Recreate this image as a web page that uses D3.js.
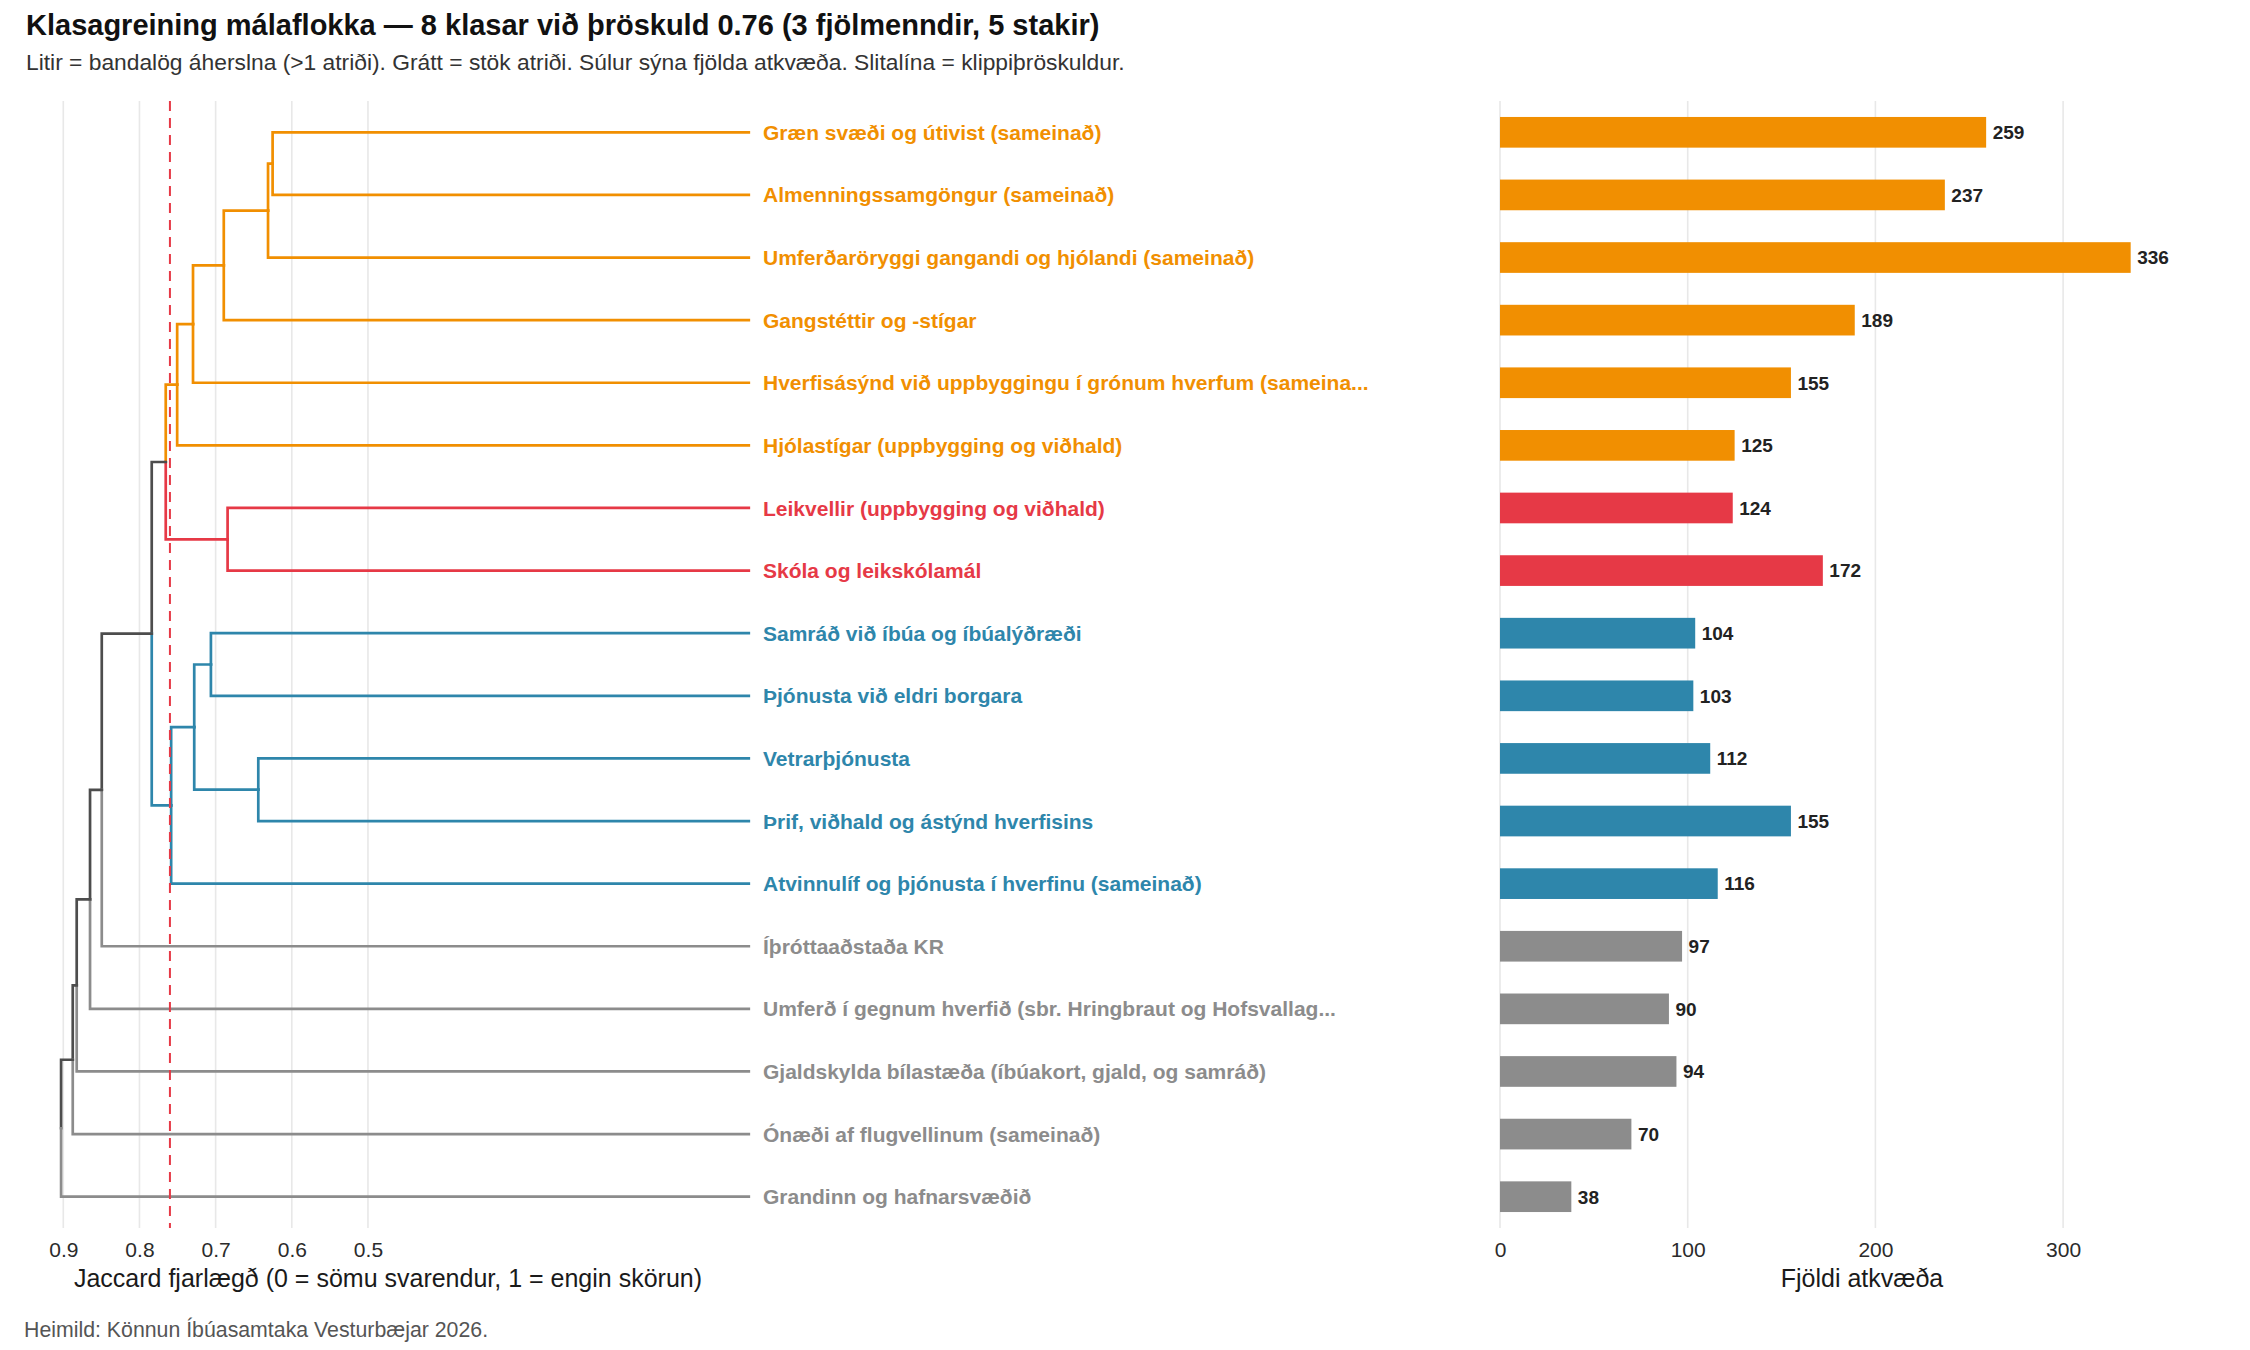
<!DOCTYPE html>
<html>
<head>
<meta charset="utf-8">
<script src="https://cdn.jsdelivr.net/npm/d3@7"></script>
<style>
  body { margin: 0; background: #fff; }
  text { font-family: "Liberation Sans", Arial, Helvetica, sans-serif; }
</style>
</head>
<body>
<svg id="chart" width="2250" height="1350"></svg>
<script>
// leaves, top to bottom (dendrogram order)
const leafLabels = [
  "Græn svæði og útivist (sameinað)",
  "Almenningssamgöngur (sameinað)",
  "Umferðaröryggi gangandi og hjólandi (sameinað)",
  "Gangstéttir og -stígar",
  "Hverfisásýnd við uppbyggingu í grónum hverfum (sameina...",
  "Hjólastígar (uppbygging og viðhald)",
  "Leikvellir (uppbygging og viðhald)",
  "Skóla og leikskólamál",
  "Samráð við íbúa og íbúalýðræði",
  "Þjónusta við eldri borgara",
  "Vetrarþjónusta",
  "Þrif, viðhald og ástýnd hverfisins",
  "Atvinnulíf og þjónusta í hverfinu (sameinað)",
  "Íþróttaaðstaða KR",
  "Umferð í gegnum hverfið (sbr. Hringbraut og Hofsvallag...",
  "Gjaldskylda bílastæða (íbúakort, gjald, og samráð)",
  "Ónæði af flugvellinum (sameinað)",
  "Grandinn og hafnarsvæðið"
];
const votes = [259, 237, 336, 189, 155, 125, 124, 172, 104, 103, 112, 155, 116, 97, 90, 94, 70, 38];
const leafCluster = ["o", "o", "o", "o", "o", "o", "r", "r", "b", "b", "b", "b", "b", "s1", "s2", "s3", "s4", "s5"];

// hclust-style merges: negative = leaf (1-based), positive = earlier merge
const mergePairs = [
  [-1, -2], [1, -3], [2, -4], [3, -5], [4, -6],
  [-7, -8], [5, 6],
  [-9, -10], [-11, -12], [8, 9], [10, -13],
  [7, 11], [12, -14], [13, -15], [14, -16], [15, -17], [16, -18]
];
const mergeHeights = [
  0.6252, 0.6312, 0.6893, 0.7297, 0.7505,
  0.6843, 0.7655,
  0.7062, 0.6440, 0.7281, 0.7584,
  0.7839, 0.8495, 0.8649, 0.8824, 0.8876, 0.9029
];
const cutHeight = 0.76;

const distTicks = [0.9, 0.8, 0.7, 0.6, 0.5];
const voteTicks = [0, 100, 200, 300];

const clusterColor = { o: "#F18F01", r: "#E63946", b: "#2E86AB" };
const singleColor = "#8C8C8C";
const mixedColor = "#4D4D4D";

const svg = d3.select("#chart");

const panelTop = 101, panelBottom = 1228;
const xDist = d3.scaleLinear().domain([0.9, 0]).range([63.3, 748.8]);
const yIdx = d3.scaleLinear().domain([-0.5, leafLabels.length - 0.5]).range([panelTop, panelBottom]);
const yBand = d3.scaleBand().domain(leafLabels).range([panelTop, panelBottom]);
const xVote = d3.scaleLinear().domain([0, 360]).range([1500, 1500 + 360 * 1.877]);

// build tree nodes
const nodes = leafLabels.map((d, i) => ({ y: i, h: 0, leaves: [i] }));
const merged = [];
mergePairs.forEach((p, k) => {
  const kids = p.map(c => (c < 0 ? nodes[-c - 1] : merged[c - 1]));
  merged.push({
    y: d3.mean(kids, c => c.y),
    h: mergeHeights[k],
    kids: kids,
    leaves: kids[0].leaves.concat(kids[1].leaves)
  });
});

function branchColor(n) {
  const cl = Array.from(new Set(n.leaves.map(i => leafCluster[i])));
  if (cl.length > 1) return mixedColor;
  return clusterColor[cl[0]] || singleColor;
}
function leafColor(i) {
  return clusterColor[leafCluster[i]] || singleColor;
}

// grid
const grid = svg.append("g");
grid.selectAll("line.dg").data(distTicks).join("line")
  .attr("x1", d => xDist(d)).attr("x2", d => xDist(d))
  .attr("y1", panelTop).attr("y2", panelBottom)
  .attr("stroke", "#E8E8E8").attr("stroke-width", 1.6);
grid.selectAll("line.vg").data(voteTicks).join("line")
  .attr("x1", d => xVote(d)).attr("x2", d => xVote(d))
  .attr("y1", panelTop).attr("y2", panelBottom)
  .attr("stroke", "#E8E8E8").attr("stroke-width", 1.6);

// dendrogram segments (elbow from node to each child)
const segs = [];
merged.forEach(n => {
  n.kids.forEach(c => segs.push({ n: n, c: c }));
});
svg.append("g").selectAll("path").data(segs).join("path")
  .attr("d", s => "M" + xDist(s.n.h) + "," + yIdx(s.n.y) +
    "V" + yIdx(s.c.y) + "H" + xDist(s.c.h))
  .attr("fill", "none")
  .attr("stroke", s => branchColor(s.c))
  .attr("stroke-width", 2.7)
  .attr("stroke-linecap", "square");

// cut line
svg.append("line")
  .attr("x1", xDist(cutHeight)).attr("x2", xDist(cutHeight))
  .attr("y1", panelTop).attr("y2", panelBottom)
  .attr("stroke", "#E63946").attr("stroke-width", 2)
  .attr("stroke-dasharray", "10,7");

// leaf labels
svg.append("g").selectAll("text").data(leafLabels).join("text")
  .attr("x", 763)
  .attr("y", (d, i) => yIdx(i))
  .attr("dy", "0.36em")
  .attr("font-size", "21px")
  .attr("font-weight", "bold")
  .attr("fill", (d, i) => leafColor(i))
  .text(d => d);

// bars
const bh = yBand.bandwidth() * 0.49;
svg.append("g").selectAll("rect").data(leafLabels).join("rect")
  .attr("x", xVote(0))
  .attr("y", d => yBand(d) + (yBand.bandwidth() - bh) / 2)
  .attr("width", (d, i) => xVote(votes[i]) - xVote(0))
  .attr("height", bh)
  .attr("fill", (d, i) => leafColor(i));

svg.append("g").selectAll("text").data(leafLabels).join("text")
  .attr("x", (d, i) => xVote(votes[i]) + 6.5)
  .attr("y", d => yBand(d) + yBand.bandwidth() / 2)
  .attr("dy", "0.36em")
  .attr("font-size", "19px")
  .attr("font-weight", "bold")
  .attr("fill", "#222")
  .text((d, i) => votes[i]);

// axes
const axDist = d3.axisBottom(xDist).tickValues(distTicks).tickFormat(d3.format(".1f")).tickSize(0).tickPadding(0);
const axVote = d3.axisBottom(xVote).tickValues(voteTicks).tickSize(0).tickPadding(0);
[axDist, axVote].forEach(ax => {
  const g = svg.append("g").attr("transform", "translate(0,1242)").call(ax);
  g.select(".domain").remove();
  g.selectAll("text")
    .attr("font-size", "21px")
    .attr("fill", "#2b2b2b")
    .attr("font-family", "Liberation Sans, Arial, sans-serif");
});

svg.append("text")
  .attr("x", 388).attr("y", 1287)
  .attr("text-anchor", "middle")
  .attr("font-size", "25px").attr("fill", "#1a1a1a")
  .text("Jaccard fjarlægð (0 = sömu svarendur, 1 = engin skörun)");
svg.append("text")
  .attr("x", 1862).attr("y", 1287)
  .attr("text-anchor", "middle")
  .attr("font-size", "25px").attr("fill", "#1a1a1a")
  .text("Fjöldi atkvæða");

// titles
svg.append("text")
  .attr("x", 26).attr("y", 35)
  .attr("font-size", "29px").attr("font-weight", "bold").attr("fill", "#111")
  .text("Klasagreining málaflokka — 8 klasar við þröskuld 0.76 (3 fjölmenndir, 5 stakir)");
svg.append("text")
  .attr("x", 26).attr("y", 70)
  .attr("font-size", "22.8px").attr("fill", "#333")
  .text("Litir = bandalög áherslna (>1 atriði). Grátt = stök atriði. Súlur sýna fjölda atkvæða. Slitalína = klippiþröskuldur.");
svg.append("text")
  .attr("x", 24).attr("y", 1337)
  .attr("font-size", "21.3px").attr("fill", "#555")
  .text("Heimild: Könnun Íbúasamtaka Vesturbæjar 2026.");
</script>
</body>
</html>
